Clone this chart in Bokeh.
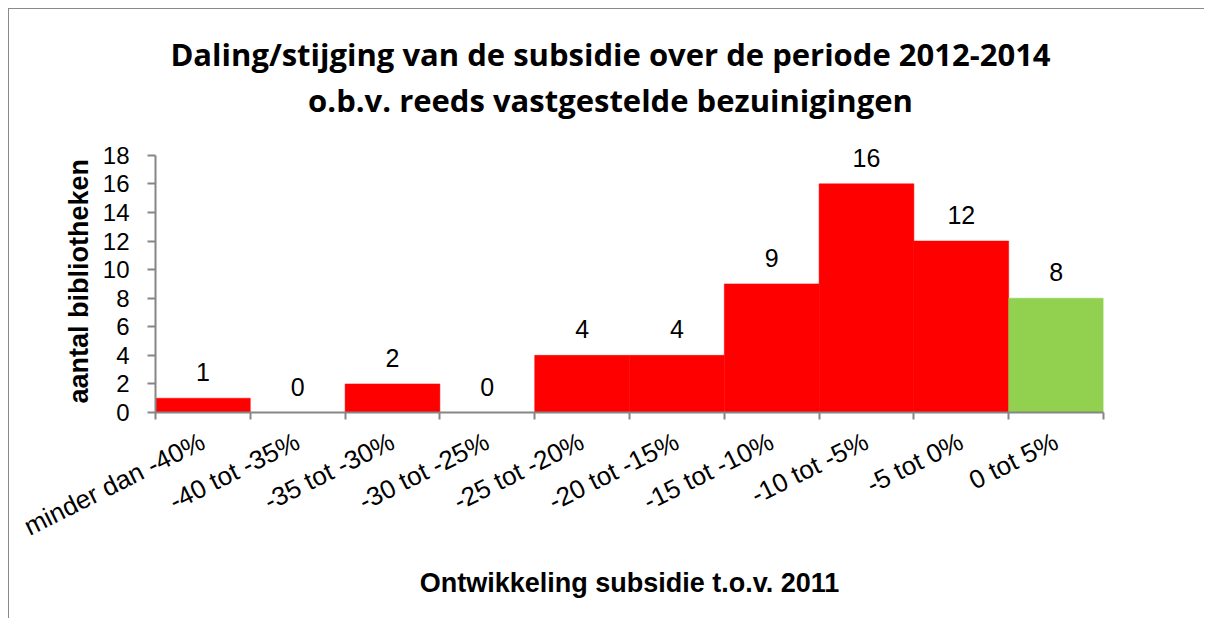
import math
from bokeh.plotting import figure
from bokeh.models import Range1d, FixedTicker, ColumnDataSource, LabelSet, Label, Title
from bokeh.core.properties import value
from bokeh.embed import file_html
from bokeh.resources import INLINE

# ---- data ----
categories = ["minder dan -40%", "-40 tot -35%", "-35 tot -30%", "-30 tot -25%",
              "-25 tot -20%", "-20 tot -15%", "-15 tot -10%", "-10 tot -5%",
              "-5 tot 0%", "0 tot 5%"]
counts = [1, 0, 2, 0, 4, 4, 9, 16, 12, 8]
bar_colors = ["#FF0000"] * 9 + ["#92D050"]
y_ticks = [0, 2, 4, 6, 8, 10, 12, 14, 16, 18]
title_lines = ["Daling/stijging van de subsidie over de periode 2012-2014",
               "o.b.v. reeds vastgestelde bezuinigingen"]
x_title = "Ontwikkeling subsidie t.o.v. 2011"
y_title = "aantal bibliotheken"

n = len(categories)
centers = list(range(n))
bounds = [i - 0.5 for i in range(n + 1)]
y_axis_max = y_ticks[-1]
y_view_top = 28.2   # extra room above the axis for the titles and value labels

AX = "#868686"
FONT = "Liberation Sans"

src = ColumnDataSource(dict(x=centers, top=counts, color=bar_colors,
                            label=[str(c) for c in counts]))

p = figure(frame_width=948, frame_height=403,
           x_range=Range1d(-0.5, n - 0.5), y_range=Range1d(0, y_view_top),
           output_backend="svg", toolbar_location=None,
           min_border_left=146, min_border_right=101,
           min_border_top=0, min_border_bottom=206)
p.title.visible = False
p.outline_line_color = None
p.xgrid.visible = False
p.ygrid.visible = False
p.background_fill_color = "white"
p.border_fill_color = "white"
p.styles = {"margin-left": "8px", "margin-top": "8px",
            "border-top": "1px solid #8a8a8a", "border-left": "1px solid #8a8a8a"}

p.vbar(x="x", top="top", width=1.0, fill_color="color", line_color="color",
       line_width=0.5, source=src)

labels = LabelSet(x="x", y="top", text="label", source=src, y_offset=17,
                  text_align="center", text_baseline="alphabetic",
                  text_font=value(FONT), text_font_size="25px", text_color="black")
p.add_layout(labels)

# x axis
xa = p.xaxis[0]
xa.ticker = FixedTicker(ticks=centers, minor_ticks=bounds)
xa.major_label_overrides = {c: cat for c, cat in zip(centers, categories)}
xa.major_label_orientation = math.radians(26.5)
xa.major_tick_out = 0
xa.major_tick_in = 0
xa.minor_tick_out = 7
xa.minor_tick_in = 0
xa.minor_tick_line_color = AX
xa.minor_tick_line_width = 2
xa.axis_line_color = AX
xa.axis_line_width = 2
xa.major_label_text_font = FONT
xa.major_label_text_font_size = "26px"
xa.major_label_text_color = "black"
xa.major_label_standoff = 20
xa.axis_label = x_title
xa.axis_label_text_font = FONT
xa.axis_label_text_font_style = "bold"
xa.axis_label_text_font_size = "27px"
xa.axis_label_text_color = "black"
xa.axis_label_standoff = 10

# y axis
ya = p.yaxis[0]
ya.bounds = (0, y_axis_max)
ya.ticker = FixedTicker(ticks=y_ticks)
ya.major_tick_out = 8
ya.major_tick_in = 0
ya.minor_tick_out = 0
ya.minor_tick_in = 0
ya.major_tick_line_color = AX
ya.major_tick_line_width = 2
ya.axis_line_color = AX
ya.axis_line_width = 2
ya.major_label_text_font = FONT
ya.major_label_text_font_size = "24px"
ya.major_label_text_color = "black"
ya.major_label_standoff = 18

# y-axis title in the left panel, starting near the bottom of the axis
p.add_layout(Title(text=y_title, align="left", offset=9, standoff=12,
                   vertical_align="bottom",
                   text_font=FONT, text_font_style="bold",
                   text_font_size="27px", text_color="black"), "left")

# chart title, two centred lines
for text, ypos in zip(title_lines, [359, 313]):
    p.add_layout(Label(x=455, y=ypos, x_units="screen", y_units="screen",
                       text=text, text_align="center", text_baseline="alphabetic",
                       text_font="Open Sans", text_font_style="bold",
                       text_font_size="31px", text_color="black"))

open("out.html", "w").write(file_html(p, INLINE))
